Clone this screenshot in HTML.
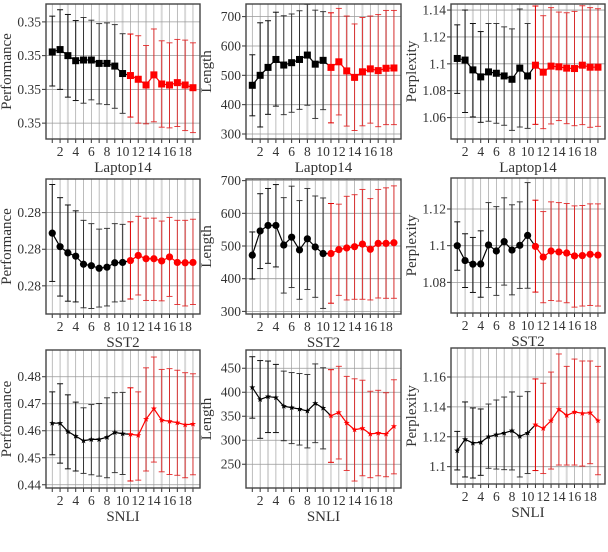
<!DOCTYPE html>
<html><head><meta charset="utf-8">
<style>
html,body{margin:0;padding:0;background:#fff;}
svg{display:block;}
text{font-family:"Liberation Serif",serif;fill:#333;}
</style></head>
<body>
<svg id="chart" width="608" height="552" viewBox="0 0 608 552" xmlns="http://www.w3.org/2000/svg"></svg>
<script>
const steps = [1,2,3,4,5,6,7,8,9,10,11,12,13,14,15,16,17,18,19];

const lapPerfMean = [2.11,2.18,2.0,1.85,1.87,1.87,1.77,1.77,1.69,1.47,1.41,1.30,1.13,1.43,1.16,1.13,1.20,1.13,1.05];
const lapPerfUp   = [3.17,3.36,3.22,3.04,3.13,3.05,2.95,2.97,2.92,2.65,2.64,2.59,2.30,2.79,2.44,2.38,2.48,2.46,2.38];
const lapPerfLo   = [1.10,1.0,0.77,0.67,0.59,0.69,0.57,0.55,0.44,0.29,0.18,0,-0.02,0.04,-0.12,-0.14,-0.10,-0.22,-0.28];

const lapLenMean = [466,500,527,554,535,543,554,569,538,551,527,546,515,493,512,522,516,524,525];
const lapLenUp   = [570,679,686,715,703,709,720,742,722,717,713,728,702,675,697,702,707,721,721];
const lapLenLo   = [362,324,367,395,366,374,384,398,353,383,338,365,327,312,328,337,325,332,332];

const lapPplMean = [1.104,1.1028,1.0955,1.0903,1.094,1.093,1.091,1.0885,1.0968,1.091,1.099,1.0938,1.0983,1.0978,1.0968,1.0965,1.099,1.0975,1.0975];
const lapPplUp   = [1.129,1.14,1.130,1.124,1.130,1.130,1.1275,1.126,1.1408,1.130,1.143,1.1358,1.1418,1.1385,1.138,1.139,1.1432,1.1418,1.141];
const lapPplLo   = [1.078,1.0638,1.0605,1.0565,1.0573,1.0558,1.0543,1.0505,1.053,1.052,1.055,1.0518,1.0553,1.0578,1.0555,1.054,1.0548,1.0528,1.0535];

const sstPerfMean = [1.44,1.07,0.90,0.81,0.59,0.55,0.48,0.51,0.63,0.64,0.69,0.83,0.74,0.74,0.68,0.79,0.64,0.63,0.64];
const sstPerfUp   = [2.77,2.41,2.21,2.05,1.79,1.70,1.55,1.57,1.70,1.68,1.75,1.90,1.85,1.85,1.77,1.87,1.79,1.79,1.82];
const sstPerfLo   = [0.12,-0.28,-0.42,-0.44,-0.6,-0.62,-0.58,-0.55,-0.44,-0.42,-0.36,-0.25,-0.40,-0.40,-0.41,-0.29,-0.51,-0.55,-0.51];

const sstLenMean = [472,546,563,563,503,527,488,522,497,477,477,489,494,498,506,490,508,508,510];
const sstLenUp   = [543,660,676,688,648,683,639,676,653,647,630,628,652,657,673,645,673,678,684];
const sstLenLo   = [399,431,447,436,356,373,337,367,343,309,325,349,335,337,337,335,341,340,340];

const sstPplMean = [1.1,1.0919,1.0899,1.09,1.1004,1.0971,1.1022,1.0976,1.1002,1.1056,1.0996,1.0938,1.0971,1.0966,1.096,1.0944,1.0946,1.0953,1.0949];
const sstPplUp   = [1.113,1.1065,1.1045,1.1081,1.1235,1.1213,1.1261,1.1223,1.1239,1.1344,1.1248,1.1186,1.1239,1.1235,1.123,1.1217,1.1219,1.1228,1.1228];
const sstPplLo   = [1.0866,1.0772,1.0745,1.0719,1.0772,1.0729,1.0785,1.0732,1.0767,1.0768,1.0747,1.0689,1.0701,1.0698,1.0689,1.0665,1.0671,1.0674,1.0671];

const snliPerfMean = [0.4628,0.4628,0.4597,0.4580,0.4563,0.4568,0.4568,0.4576,0.4594,0.4589,0.4587,0.4583,0.4643,0.4682,0.4639,0.4635,0.4630,0.4622,0.4625];
const snliPerfUp   = [0.4744,0.4774,0.4733,0.4706,0.4685,0.4697,0.4701,0.4722,0.4741,0.4742,0.4759,0.4744,0.4833,0.4873,0.4827,0.4830,0.4824,0.4815,0.4811];
const snliPerfLo   = [0.4511,0.4480,0.4459,0.4451,0.4442,0.4437,0.4432,0.4426,0.4445,0.4438,0.4414,0.4417,0.4451,0.4484,0.4448,0.4438,0.4435,0.4426,0.4437];

const snliLenMean = [410,385,391,389,371,368,365,361,377,367,351,358,336,322,325,313,315,313,329];
const snliLenUp   = [474,466,465,458,444,441,439,437,459,451,447,454,433,428,425,402,404,399,426];
const snliLenLo   = [346,304,316,316,299,293,290,284,295,282,254,261,237,215,226,222,226,224,230];

const snliPplMean = [1.1107,1.1183,1.1158,1.1163,1.1201,1.1214,1.1225,1.1241,1.1203,1.1225,1.1281,1.1256,1.1308,1.1384,1.1343,1.1366,1.1357,1.1361,1.1308];
const snliPplUp   = [1.1236,1.1433,1.1393,1.1386,1.1419,1.1446,1.1466,1.15,1.1471,1.1502,1.1587,1.1558,1.1633,1.1754,1.1671,1.172,1.1707,1.1707,1.1671];
const snliPplLo   = [1.0978,1.0931,1.0924,1.0942,1.0989,1.0984,1.098,1.0978,1.0931,1.0954,1.0974,1.0954,1.0984,1.1011,1.1011,1.1011,1.1004,1.102,1.0946];

const xTickVals = [2,4,6,8,10,12,14,16,18];
const lapPerfTicks = [0,1,2,3];
const lapPerfTickLabels = ["0.35","0.35","0.35","0.35"];
const lapLenTicks = [300,400,500,600,700];
const lapPplTicks = [1.06,1.08,1.1,1.12,1.14];
const lapPplTickLabels = ["1.06","1.08","1.1","1.12","1.14"];
const sstPerfTicks = [0,1,2];
const sstPerfTickLabels = ["0.28","0.28","0.28"];
const sstLenTicks = [300,400,500,600,700];
const sstPplTicks = [1.08,1.1,1.12];
const sstPplTickLabels = ["1.08","1.1","1.12"];
const snliPerfTicks = [0.44,0.45,0.46,0.47,0.48];
const snliPerfTickLabels = ["0.44","0.45","0.46","0.47","0.48"];
const snliLenTicks = [250,300,350,400,450];
const snliPplTicks = [1.1,1.12,1.14,1.16];
const snliPplTickLabels = ["1.1","1.12","1.14","1.16"];

const NS = "http://www.w3.org/2000/svg";
const svg = document.getElementById("chart");
function mk(tag, attrs, parent){ const e=document.createElementNS(NS,tag); for(const k in attrs) e.setAttribute(k,attrs[k]); (parent||svg).appendChild(e); return e; }

const cols = [[46,200],[246,401],[451,605]];
const panels = [
 {c:0,y0:4,y1:139,ylim:[-0.47,3.53],mean:lapPerfMean,up:lapPerfUp,lo:lapPerfLo,ticks:lapPerfTicks,tl:lapPerfTickLabels,yl:"Performance",xl:"Laptop14",mk:"sq",name:"laptop14-performance"},
 {c:1,y0:4,y1:139,ylim:[283,743],mean:lapLenMean,up:lapLenUp,lo:lapLenLo,ticks:lapLenTicks,tl:null,yl:"Length",xl:"Laptop14",mk:"sq",name:"laptop14-length"},
 {c:2,y0:4,y1:139,ylim:[1.0441,1.1445],mean:lapPplMean,up:lapPplUp,lo:lapPplLo,ticks:lapPplTicks,tl:lapPplTickLabels,yl:"Perplexity",xl:"Laptop14",mk:"sq",name:"laptop14-perplexity"},
 {c:0,y0:179,y1:314,ylim:[-0.77,2.92],mean:sstPerfMean,up:sstPerfUp,lo:sstPerfLo,ticks:sstPerfTicks,tl:sstPerfTickLabels,yl:"Performance",xl:"SST2",mk:"ci",name:"sst2-performance"},
 {c:1,y0:179,y1:314,ylim:[292,705],mean:sstLenMean,up:sstLenUp,lo:sstLenLo,ticks:sstLenTicks,tl:null,yl:"Length",xl:"SST2",mk:"ci",name:"sst2-length"},
 {c:2,y0:178,y1:313,ylim:[1.0633,1.1369],mean:sstPplMean,up:sstPplUp,lo:sstPplLo,ticks:sstPplTicks,tl:sstPplTickLabels,yl:"Perplexity",xl:"SST2",mk:"ci",name:"sst2-perplexity"},
 {c:0,y0:350,y1:488,ylim:[0.4388,0.4899],mean:snliPerfMean,up:snliPerfUp,lo:snliPerfLo,ticks:snliPerfTicks,tl:snliPerfTickLabels,yl:"Performance",xl:"SNLI",mk:"st",name:"snli-performance"},
 {c:1,y0:350,y1:488,ylim:[200.5,488],mean:snliLenMean,up:snliLenUp,lo:snliLenLo,ticks:snliLenTicks,tl:null,yl:"Length",xl:"SNLI",mk:"st",name:"snli-length"},
 {c:2,y0:348,y1:484,ylim:[1.0884,1.1794],mean:snliPplMean,up:snliPplUp,lo:snliPplLo,ticks:snliPplTicks,tl:snliPplTickLabels,yl:"Perplexity",xl:"SNLI",mk:"st",name:"snli-perplexity"}
];

panels.forEach(p=>{
  const [x0,x1]=cols[p.c];
  const g=mk("g",{});
  
  
  const xs=v=>x0+(v-0.2)/(19.9-0.2)*(x1-x0);
  const ys=v=>p.y1-(v-p.ylim[0])/(p.ylim[1]-p.ylim[0])*(p.y1-p.y0);
  steps.forEach(s=>{
    const light=(s%5===3||s===10||s===15);
    const l=mk("line",{x1:xs(s),x2:xs(s),y1:p.y0,y2:p.y1,stroke:light?"#d8d8d8":"#a0a0a0","stroke-width":light?2:0.7},g);
    
    
  });
  p.ticks.forEach((t,i)=>{
    const y=ys(t);
    const l=mk("line",{x1:x0,x2:x1,y1:y,y2:y,stroke:"#999","stroke-width":0.8},g);
    
    
    mk("line",{x1:x0-4,x2:x0,y1:y,y2:y,stroke:"#333","stroke-width":1},g);
    const tx=mk("text",{x:x0-5,y:y+4.5,"text-anchor":"end","font-size":13.5},g);
    tx.textContent=p.tl?p.tl[i]:String(t);
    
    
  });
  steps.forEach(s=>{ mk("line",{x1:xs(s),x2:xs(s),y1:p.y1,y2:p.y1+4,stroke:"#333","stroke-width":1},g); });
  xTickVals.forEach(v=>{
    const tx=mk("text",{x:xs(v),y:p.y1+17,"text-anchor":"middle","font-size":13.5},g);
    tx.textContent=String(v);
    
    
  });
  const xl=mk("text",{x:(x0+x1)/2,y:p.y1+33,"text-anchor":"middle","font-size":15},g);
  xl.textContent=p.xl;
  
  
  const ylx=x0-35, yly=(p.y0+p.y1)/2;
  const yl=mk("text",{x:ylx,y:yly,"text-anchor":"middle","font-size":15,transform:`rotate(-90 ${ylx} ${yly})`},g);
  yl.textContent=p.yl;
  
  
  steps.forEach((s,i)=>{
    const red=s>=11, col=red?"#e00000":"#111";
    const eb=mk("g",{stroke:col,"stroke-width":1,opacity:red?(s===11?1:0.75):(s>=5?0.8:1)},g);
    
    
    const x=xs(s), yu=ys(p.up[i]), yo=ys(p.lo[i]);
    mk("line",{x1:x,x2:x,y1:yu,y2:yo},eb);
    mk("line",{x1:x-3,x2:x+3,y1:yu,y2:yu},eb);
    mk("line",{x1:x-3,x2:x+3,y1:yo,y2:yo},eb);
  });
  const blackPts=steps.slice(0,11).map((s,i)=>xs(s)+","+ys(p.mean[i])).join(" ");
  const redPts=steps.slice(10).map((s,i)=>xs(s)+","+ys(p.mean[i+10])).join(" ");
  const bl=mk("polyline",{points:blackPts,fill:"none",stroke:"#000","stroke-width":1.2},g);
  
  
  const rl=mk("polyline",{points:redPts,fill:"none",stroke:"#f00","stroke-width":1.2},g);
  
  
  steps.forEach((s,i)=>{
    const col=s>=11?"#f00":"#000";
    const x=xs(s), y=ys(p.mean[i]);
    let m;
    if(p.mk==="sq") m=mk("rect",{x:x-3.5,y:y-3.5,width:7,height:7,fill:col},g);
    else if(p.mk==="ci") m=mk("circle",{cx:x,cy:y,r:3.6,fill:col},g);
    else {
      const pts=[];
      for(let k=0;k<10;k++){const r=k%2?1.3:3.2;const a=-Math.PI/2+k*Math.PI/5;pts.push((x+r*Math.cos(a)).toFixed(2)+","+(y+r*Math.sin(a)).toFixed(2));}
      m=mk("polygon",{points:pts.join(" "),fill:col},g);
    }
    
    
  });
  const fr=mk("rect",{x:x0,y:p.y0,width:x1-x0,height:p.y1-p.y0,fill:"none",stroke:"#444","stroke-width":1.4},g);
  
  
});
</script>
</body></html>
